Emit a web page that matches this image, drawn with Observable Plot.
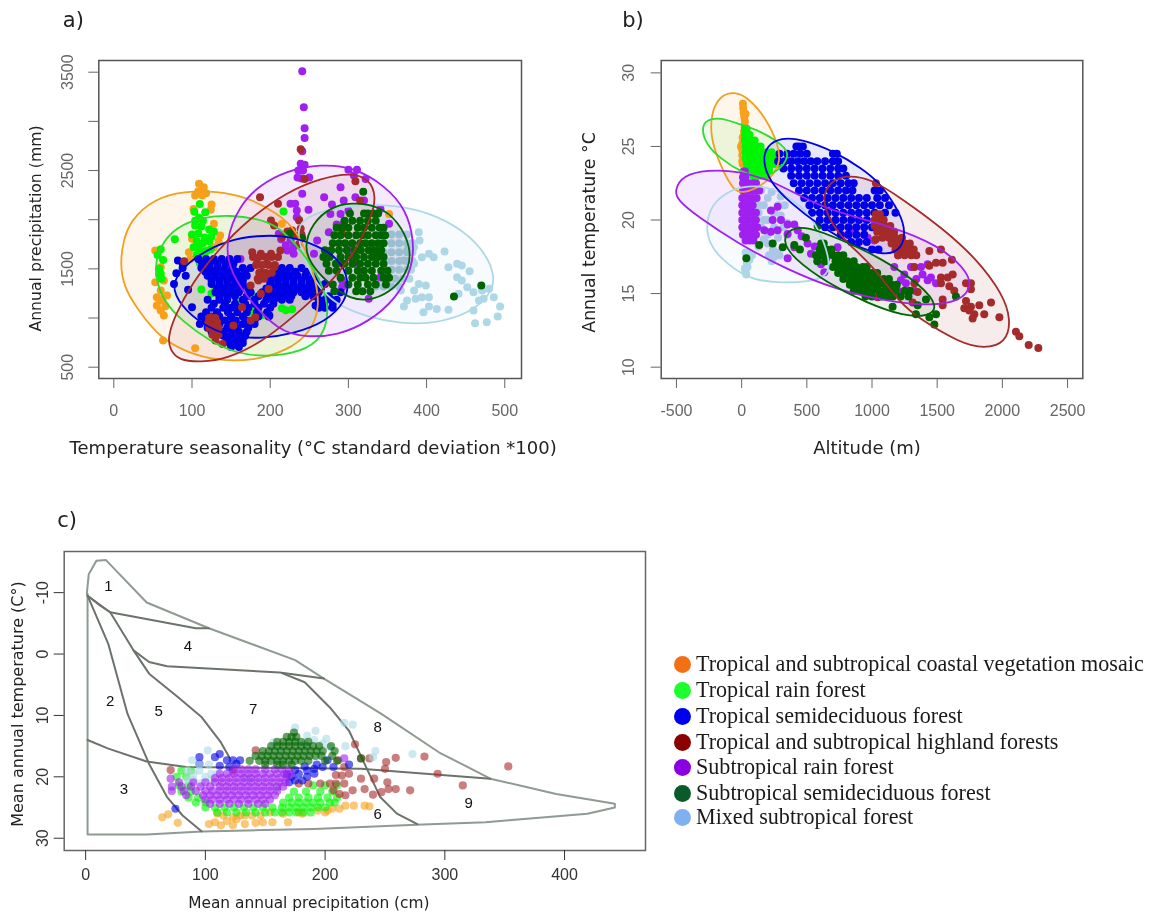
<!DOCTYPE html>
<html><head><meta charset="utf-8">
<script src="https://cdn.jsdelivr.net/npm/d3@7"></script>
<script src="https://cdn.jsdelivr.net/npm/@observablehq/plot@0.6"></script>
<style>
html,body{margin:0;padding:0;background:#fff;}
#page{position:relative;width:1151px;height:917px;overflow:hidden;}
#page svg{position:absolute;background:transparent;max-width:none;filter:blur(0.45px);}
.lg{position:absolute;left:696px;font:22.1px "Liberation Serif",serif;color:#1a1a1a;white-space:nowrap;line-height:24px;filter:blur(0.3px);}
.ld{position:absolute;left:673.5px;width:17px;height:17px;border-radius:50%;}
</style></head><body><div id="page"></div>
<script>
// ---------- legend ----------
const legendNames = ["Tropical and subtropical coastal vegetation mosaic","Tropical rain forest","Tropical semideciduous forest","Tropical and subtropical highland forests","Subtropical rain forest","Subtropical semideciduous forest","Mixed subtropical forest"];
const legendColors = ["#f36f13","#1cff2c","#0000f0","#8b0000","#8a00e0","#0b5a2a","#80b0f0"];
const legendY = [664,690,716,742,767,793,817];

// ---------- panel a: [seasonality, precipitation] ----------
const aOrange = [[109,2365],[115,2331],[113,2246],[104,2246],[125,2154],[102,2110],[128,1958],[136,1839],[100,1805],[96,1670],[53,1687],[53,1364],[60,1517],[64,1381],[68,1229],[58,1195],[55,1127],[60,1076],[64,1025],[63,771],[104,693],[215,1958],[352,2059],[128,1720],[119,1687],[60,1280],[62,1178],[55,1212],[108,2290],[118,2270],[124,2100],[98,1600],[134,1780],[66,1120]];
const aGreen = [[110,2160],[103,2080],[117,2075],[109,2020],[122,1900],[128,1880],[104,1940],[112,1930],[100,1850],[108,1860],[116,1820],[106,1780],[114,1760],[122,1780],[102,1720],[110,1700],[118,1680],[106,1640],[113,1620],[124,1700],[60,1700],[56,1640],[63,1590],[58,1500],[60,1450],[61,1400],[58,1440],[78,1800],[130,1300],[125,1250],[112,1290],[175,1060],[178,1080],[190,1030],[215,1100],[220,1080],[228,1090],[150,1000],[160,1150],[140,1380],[175,1250],[128,1400],[237,2000],[217,2083],[118,1560],[110,1560],[104,1990],[114,1990],[125,1830],[108,1740]];
const aBlueRows = [[1600,[108,118,128,138,148,158]],[1555,[113,123,133,143,153]],[1510,[88,112,122,132,142,152,165,175,215,225,240]],[1470,[117,127,137,147,157,168,210,220,232,246]],[1430,[92,120,130,140,150,160,170,195,205,215,225,235,245,255]],[1385,[125,135,145,155,165,200,210,220,230,240,250,258]],[1345,[125,135,145,155,165,200,210,220,230,240,250,260,270]],[1262,[130,140,150,160,175,190,200,210,220,230,240,250,262]],[1300,[132,142,152,162,172,195,205,215,225,235,245,255,265]],[1222,[135,145,155,170,185,197,207,217,227,245,255,275]],[1185,[120,135,145,165,180,195,205,215,225,262,270,278,285]],[1105,[125,140,150,160,172,185,200,262,270,280]],[1145,[128,142,155,168,180,192,204,266,280]],[1060,[118,132,146,158,170,183,196]],[1015,[112,125,135,150,165,185,198]],[975,[118,130,142,156,170,180]],[940,[110,122,135,150,165,180]],[900,[120,132,145,158,172]],[860,[125,140,150,160,170]],[820,[140,150,160,168]],[785,[145,155,165]],[745,[148,158,165]],[705,[150,160]]];
const aBlue = [[82,1585],[100,1110],[199,1025],[95,1287],[258,1127],[273,1212],[269,1144],[80,1455],[77,1345],[88,1555],[290,1262]];
const aBrownRows = [[1620,[178,186,194,202,210]],[1540,[182,190,198,206]],[1460,[186,194,202]],[1400,[184,192]],[1000,[122,130]],[900,[122,130,134]],[830,[126,134]]];
const aBrown = [[187,2229],[210,2161],[239,2717],[244,2415],[309,2392],[201,1992],[205,1941],[228,1890],[237,1992],[239,1907],[237,1754],[215,1822],[177,1670],[188,1653],[201,1653],[213,1687],[183,1551],[196,1551],[205,1517],[188,1466],[196,1449],[185,1381],[175,1330],[198,1296],[188,1246],[90,1578],[164,1110],[181,1008],[175,975],[153,924],[124,1008],[126,924],[132,958],[121,958],[128,839],[130,771],[139,737],[315,2195],[292,1856],[307,1585],[292,1551],[232,1840],[240,1850],[222,1880]];
const aPurple = [[241,3510],[243,3144],[244,2930],[244,2830],[241,2697],[239,2570],[244,2560],[236,2500],[242,2500],[235,2430],[240,2420],[250,2430],[300,2507],[311,2507],[307,2450],[322,2415],[290,2330],[241,2263],[269,2229],[294,2195],[309,2229],[279,2154],[226,2161],[232,2161],[234,2093],[249,2100],[234,2025],[290,2059],[277,2059],[341,2110],[352,1958],[320,2195],[211,1856],[226,1788],[222,1687],[260,1788],[275,1873],[294,1958],[256,1653],[307,1653],[292,1381],[292,1314],[326,1195],[341,1415],[230,1653],[130,975],[162,1600],[303,1720],[307,1551],[214,1800],[220,1740],[230,1720],[300,2090],[285,1950]];
const aDarkRows = [[2062,[302,320,325,332,338]],[1990,[295,305,315,325,335]],[1918,[285,292,300,312,320,330,340,345]],[1842,[282,290,300,310,318,325,335,342,347]],[1760,[280,288,296,305,315,322,330,338,345]],[1690,[270,278,288,298,308,316,326,334,342]],[1620,[268,276,290,300,310,320,330,338,345]],[1552,[272,284,295,305,315,325,335,345]],[1480,[275,285,300,312,320,330,342,350]],[1410,[290,305,315,322,332,345,352]],[1340,[280,300,312,325,335,348]],[1272,[282,310,318,328]]];
const aDarkExtra = [[319,2283],[435,1219],[470,1330],[225,1856],[241,1815]];
const aLight = [[390,1873],[391,1788],[384,1720],[403,1653],[409,1619],[423,1676],[394,1619],[428,1517],[439,1551],[445,1534],[455,1476],[439,1415],[445,1381],[452,1313],[460,1263],[471,1280],[480,1297],[486,1212],[494,1117],[491,1015],[477,958],[462,948],[460,1076],[473,1195],[467,1178],[441,1246],[428,1083],[413,1093],[403,1117],[396,1059],[371,1117],[403,1212],[390,1347],[399,1330],[384,1280],[375,1178],[386,1195],[394,1212],[367,1280],[384,1551],[375,1687],[371,1585]];
const aLightRows = [[1850,[345,355,365,375]],[1760,[345,355,365,375,382]],[1670,[345,355,365,375,382]],[1580,[345,355,365,375,382]],[1490,[345,355,365,375,380]],[1400,[340,350,360,370,378]],[1320,[335,345,355,365]]];
const aCurveOrange = [[8,1551],[12,1780],[21,1992],[51,2212],[90,2290],[132,2290],[170,2230],[209,2070],[235,1890],[255,1500],[265,1110],[250,839],[222,670],[179,565],[132,565],[94,650],[60,790],[30,1090],[13,1314]];
const aCurveGreen = [[51,1483],[58,1720],[79,1927],[115,2029],[149,2046],[183,2012],[209,1944],[241,1686],[267,1348],[276,1076],[267,790],[239,655],[196,604],[158,638],[124,756],[88,965],[62,1178]];
const aCurveBlue = [[74,1280],[81,1459],[109,1650],[145,1790],[183,1840],[222,1840],[262,1735],[289,1595],[301,1381],[297,1168],[271,960],[230,840],[188,790],[153,808],[122,895],[92,1066]];
const aCurveBrown = [[69,795],[77,1008],[100,1357],[134,1700],[173,2010],[222,2285],[264,2420],[303,2480],[327,2415],[336,2229],[329,2025],[310,1680],[275,1337],[232,1028],[190,757],[145,585],[111,550],[83,570],[72,676]];
const aCurvePurple = [[143,1788],[160,2137],[186,2350],[222,2500],[264,2565],[307,2535],[347,2345],[374,2103],[384,1788],[382,1507],[361,1195],[326,960],[286,822],[247,805],[211,858],[167,1236],[147,1517]];
const aCurveLight = [[237,1992],[273,2110],[315,2150],[358,2150],[403,2075],[446,1900],[476,1660],[488,1415],[482,1236],[454,1044],[409,942],[367,942],[324,1010],[284,1134],[258,1350],[245,1585],[235,1822]];
const aCurveDark = [[243,1720],[254,1968],[277,2125],[303,2178],[339,2142],[364,1985],[380,1720],[378,1507],[360,1300],[332,1180],[303,1180],[271,1375],[252,1551]];

// ---------- panel b: [altitude, temperature] ----------
const bOrange = [[10,27.9],[12,27.6],[15,27.3],[20,27],[25,26.7],[22,26.4],[18,26],[8,25.6],[5,25.2],[3,24.8],[5,24.4],[5,24],[8,23.8],[-5,25],[30,27.2],[30,26.2]];
const bGreenRows = [[26.2,[25,38]],[25.8,[25,45,60]],[25.4,[25,45,70,100]],[25,[30,55,85,115,145]],[24.6,[30,60,90,120,150,190,230]],[24.2,[30,60,90,120,150,180,215,250]],[23.8,[40,70,100,130,160,200,240,270]],[23.4,[50,80,110,140,170,210]],[23,[90,130,160,190]]];
const bLight = [[33,24.95],[30,16.5],[35,16.3],[25,16.7],[45,16.8],[40,17.1],[60,17.3],[30,17.8],[50,17.7],[80,17.6],[250,17.5],[270,17.8],[230,17.2],[290,17.6],[210,17.6],[100,21],[130,21],[170,21],[200,21.5],[130,20.5],[100,20],[150,19.5],[200,20],[250,20.5],[280,21],[250,19.5],[300,20.3],[320,19.5],[350,19.8],[350,19],[100,19],[170,18.7],[130,18.2],[200,18.4],[240,18],[150,22],[230,21.9],[300,21.6],[170,20],[200,19],[280,18.8],[330,21]];
const bPurpleRows = [[23.3,[15,25]],[22.9,[10,30]],[22.5,[10,30,55,85,110]],[22,[10,35,60,85,110,135]],[21.5,[5,30,55,85,115]],[21,[5,30,55,85]],[20.5,[5,30,55,80,110]],[20,[5,30,55,85,110]],[19.5,[5,35,60,90,120]],[19,[10,35,60,85,110]],[18.6,[30,60,90]]];
const bPurple = [[225,20.65],[276,20.9],[238,20],[302,20],[353,19.7],[404,19.7],[174,19.3],[225,19.2],[276,19.3],[353,19.05],[430,19.3],[353,17.4],[404,18.15],[532,17.7],[609,17],[634,16.45],[506,18.4],[609,18.15],[736,18.15],[813,19],[941,19],[1018,18.6],[967,18.8],[864,19.3],[1248,16.3],[1299,16.8],[1376,16.8],[1427,17],[1452,16.1],[1491,15.7],[1427,15.9],[1388,16.3],[1222,15.9],[1171,16.8],[1197,15.2],[1260,15.7],[1325,15.2],[460,18.9],[560,18.2],[650,17.4],[1200,17.6],[1340,16]];
const bBlueRows = [[25,[420,440,470]],[24.5,[290,350,400,450,500,700,730]],[24,[280,330,380,430,480,530,580,640,700,740]],[23.5,[320,380,440,500,560,620,680,740,780]],[23,[380,440,500,560,620,680,740,800]],[22.5,[400,460,520,580,640,700,760,820,860]],[22,[440,500,560,620,680,740,800,850,1020,1060]],[21.5,[480,540,600,660,720,780,840,900,960,1040,1100]],[21,[520,580,640,700,760,820,880,940,1000,1060,1130]],[20.5,[540,600,660,720,780,840,900,960,1020,1100,1180]],[20,[600,660,720,780,840,900,960]],[19.5,[640,700,760,820,880,940,1000]],[19,[760,820,880,940]],[18.5,[840,900,960]],[18,[1000,1050]]];
const bBrownRows = [[20.4,[1030,1060]],[20,[1020,1050,1090]],[19.6,[1020,1060,1100,1140]],[19.2,[1040,1080,1120,1170]],[18.8,[1080,1130,1180,1230]],[18.4,[1150,1200,1250,1290]],[18,[1180,1230,1280,1320]],[17.6,[1200,1250,1300,1340]]];
const bBrown = [[1030,22.5],[1440,17.9],[1529,18],[1491,17.1],[1542,17.1],[1613,17.3],[1440,16.9],[1325,16.8],[1529,16.1],[1580,16.1],[1619,16.3],[1529,15.7],[1593,15.5],[1631,15.2],[1721,15.7],[1759,15.7],[1759,15.3],[1542,14.6],[1542,14.2],[1721,14.5],[1708,14],[1759,14.1],[1785,13.6],[1823,14.2],[1861,13.6],[1913,14.4],[1977,13.4],[2104,12.4],[2130,12.1],[2202,11.5],[2276,11.3],[1746,13.85],[1772,13.3],[1043,14.75],[1325,15.7],[1312,14.4],[1350,15.1],[1030,18.7]];
const bDarkRows = [[18.4,[610,630]],[18,[600,650,690]],[17.6,[570,610,650,700,740,780]],[17.2,[580,640,720,770,810,860]],[16.8,[700,740,790,830,880,930,960]],[16.4,[740,780,820,860,900,950,1000,1040]],[16,[780,820,870,920,960,1000,1040,1090,1130]],[15.6,[830,880,930,970,1010,1050,1100,1150,1190]],[15.2,[860,910,960,1000,1050,1100,1140,1180,1250,1290]],[14.8,[950,1000,1070,1120,1160,1220,1280]]];
const bDark = [[36,17.4],[135,18.3],[238,18.4],[315,18.15],[493,18.8],[583,19.6],[404,18.3],[447,18],[1491,13.6],[1478,12.9],[1440,13.4],[1414,14.6],[1350,14.2],[1337,13.6],[1158,14.1],[1644,14.8]];
const bCurveOrange = [[-56,28.75],[59,28.25],[180,27],[285,25.1],[298,23.8],[205,22.6],[46,21.85],[-60,21.85],[-168,23.8],[-240,25.6],[-232,27.4],[-162,28.45]];
const bCurveGreen = [[-310,26.2],[-268,26.85],[-159,26.95],[-31,26.55],[148,26.05],[335,25],[365,24.3],[282,23.3],[148,22.85],[-5,23.25],[-165,24.2],[-270,25.1]];
const bCurveBlue = [[160,24.04],[192,25.05],[302,25.6],[460,25.5],[716,24.65],[922,23.5],[1052,22.6],[1183,20.95],[1260,19.5],[1234,18],[1094,17.55],[858,18.25],[600,19.6],[368,21.2],[215,22.6]];
const bCurveBrown = [[615,21.55],[678,22.6],[800,23.05],[985,22.85],[1230,21.45],[1540,19.45],[1798,17.4],[2002,15],[2068,13.2],[2028,11.65],[1861,11.25],[1675,11.65],[1370,13.25],[1214,14.35],[1008,16.9],[805,18.45],[675,19.9]];
const bCurvePurple = [[-516,22],[-450,23.05],[-261,23.4],[-31,23.35],[256,22.65],[615,20.75],[1126,19.65],[1514,18.3],[1748,16.4],[1760,15.25],[1640,14.35],[1376,14.2],[1115,14.5],[730,15.25],[345,16.65],[-38,18.45],[-348,20.3],[-490,21.35]];
const bCurveLight = [[-272,19.74],[-232,21],[-112,21.95],[46,22.35],[230,22.25],[465,21],[595,19.35],[672,17.5],[672,16.2],[506,15.75],[225,15.75],[40,16.05],[-168,17.4],[-258,18.6]];
const bCurveDark = [[310,18.6],[372,19.45],[506,19.55],[742,18.75],[1076,17.4],[1388,15.5],[1510,14.1],[1432,13.45],[1248,13.45],[960,14.35],[652,15.75],[395,17.4]];

// ---------- panel c: [precipitation cm, temperature] ----------
const cOrange = [[64,26.6],[69,26.1],[77,27.5],[103,27.7],[108,27.4],[110,26],[115,26.3],[113,27.9],[123,26.6],[123,27.9],[133,27.7],[129,26.3],[139,26.3],[142,27.5],[148,27.4],[154,25.8],[156,27.4],[169,27.4],[165,26],[181,26],[194,25.5],[202,25.5],[212,25.2],[217,24.7],[224,24.7],[233,24.7],[237,24.8],[178,25.8],[133,26.3],[146,26.3],[118,27.2],[126,26.9],[200,25.8],[206,25.2]];
const cGreenRows = [[25.8,[110,118,126,134,142,150,158,164,170,176,182,188]],[25,[100,108,116,124,132,140,148,156,164,170,176,182,188,194,200]],[24.2,[92,100,165,172,178,184,190,196,204,208]],[23.4,[86,94,170,178,186,194,202,210]],[22.4,[80,88,174,184,196,206]],[21.4,[78,86,190,200,210]],[20,[76,84]],[19,[80,88]]];
const cBrown = [[225,14.7],[230,17],[237,17],[251,17.6],[259,16.9],[283,16.7],[250,18.7],[294,19.5],[353,18.3],[315,21.4],[271,22.2],[259,22],[253,22],[247,22.5],[240,22.9],[252,20.9],[241,20.3],[230,20.3],[233,22],[223,22.2],[217,23],[214,19.8],[220,19.5],[216,18.4],[209,21.1],[204,21.1],[196,21.1],[186,21.1],[178,21.1],[216,21.1],[71,18.9],[211,17.3],[142,15.7],[123,19],[207,22.2],[212,22.8],[209,19.7]];
const cBlue = [[75,25.2],[95,16.8],[108,16.8],[112,16.3],[118,17.3],[123,17.3],[129,17.3],[112,18.2],[120,18.4],[126,17.9],[95,17.9],[172,20],[178,19.5],[185,19],[191,18.7],[198,18.4],[181,20.6],[170,20.9],[175,20.6],[185,20],[191,19.5],[202,17.3],[220,18],[207,18.4],[168,19.6],[175,18.9],[183,18.3],[193,18]];
const cPurpleRows = [[18.8,[124,130,136,142,150,158,164,170]],[19.5,[112,118,124,130,136,142,148,154,160,166,171]],[20.2,[108,114,120,126,132,138,144,150,156,162,168]],[20.9,[78,90,100,108,114,120,126,132,138,144,150,156,162,167]],[21.6,[72,80,88,96,104,112,118,124,130,136,142,148,154,160,165]],[22.3,[72,82,92,100,106,112,118,124,130,136,142,148,154,160]],[23,[84,98,104,110,116,122,128,134,140,146,152,158]],[23.7,[100,106,112,118,124,130,136,142,148,154]],[24.4,[104,112,120,128,136,144,150]]];
const cPurple = [[216,17],[71,20.3]];
const cLight = [[102,15.7],[89,17.3],[175,12],[192,12.5],[185,13.3],[201,13.8],[216,11.2],[223,11.5],[217,15],[242,15.8],[240,16.8],[273,16.3],[157,14.4],[85,19],[90,19.5],[95,19],[100,20],[105,19.5],[90,20.5],[97,21],[105,20.5],[85,20.5],[110,19.5],[103,18],[95,18],[183,14.6],[191,14],[198,14.6],[204,15.2],[133,20.1],[138,20.3],[160,21.8]];
const cDarkRows = [[12.8,[174]],[13.5,[168,172,176]],[14.3,[160,165,170,175,180,186]],[15,[155,160,165,170,175,180,185,190,195,205]],[15.8,[148,153,158,163,168,173,178,183,188,193,198,208]],[16.6,[142,147,152,157,162,167,172,177,182,187,192,197,206]],[17.4,[137,145,150,155,160,165,170,175,180,186,200,210]],[18,[150,160,165,172]]];
const cDark = [[230,17]];
const cLines = [
 [[1,-9.8],[2.6,-13],[9,-15.2],[17,-15.3],[51,-8.4],[103,-4.2],[175,1],[199,4],[247,9.75],[295,16],[338,20.3],[393,22.8],[442,24.4],[442,25],[419,26],[334,27.4],[276,27.8],[191,28.5],[97,28.9],[51,29.4],[1.6,29.4],[1.6,-9.8]],
 [[1.6,-9.5],[12,-7.9],[20.5,-6.8],[92,-4.2],[103,-4.2]],
 [[1.6,-9.5],[19,-1.6],[35,9.75],[53,17.9],[68,23.3],[81,26.3],[97,28.9]],
 [[1.6,-9.5],[20.5,-6.8],[40,-0.6],[53,3.2],[77,7],[97,10.3],[113,14.4],[120,16.8]],
 [[40,-0.6],[53,1.3],[68,2],[162,3],[199,4]],
 [[164,3.1],[183,4.6],[204,8.7],[220,12.5],[233,17.9],[246,23.3],[260,26],[277,27.7]],
 [[1.6,14],[19,15.4],[51,17.5],[84,18.4],[230,18.7],[338,20.3]]
];
const cZoneLabels = ["1","2","3","4","5","6","7","8","9"];
const cZoneX = [19,20.5,32,85.5,61,244,140,244,320];
const cZoneY = [-11.1,7.7,22,-1.2,9.3,26.1,9,11.9,24.3];

const colOrange="#f7a01c", colGreen="#00f500", colLineGreen="#2fdc2f", colBlue="#0000e6", colBrown="#a52a2a", colPurple="#a020f0", colDark="#006400", colLight="#add8e6";
const rows = r => r.flatMap(([y,xs]) => xs.map(x => [x,y]));
const X = d => d[0], Y = d => d[1];

const page = document.getElementById("page");
function place(svg,left,top){ svg.style.left=left+"px"; svg.style.top=top+"px"; page.appendChild(svg); }
const LABEL = "DejaVu Sans", TICK = "Liberation Sans";
function labels(xl, xdx, xdy, xsize, yl, ydx, ydy, ysize, tag, tdx, tdy){
  return [
    Plot.text([xl],{text:d=>d,frameAnchor:"bottom",dx:xdx,dy:xdy,lineAnchor:"middle",fontFamily:LABEL,fontSize:xsize,fill:"#222"}),
    Plot.text([yl],{text:d=>d,frameAnchor:"left",rotate:-90,dx:ydx,dy:ydy,lineAnchor:"middle",textAnchor:"middle",fontFamily:LABEL,fontSize:ysize,fill:"#222"}),
    Plot.text([tag],{text:d=>d,frameAnchor:"top-left",dx:tdx,dy:tdy,lineAnchor:"middle",textAnchor:"start",fontFamily:LABEL,fontSize:21,fill:"#222"})
  ];
}
function axes(xt, yt, yf, col, xpad, ypad){
  return [
    Plot.axisX({ticks:xt,tickFormat:d=>String(d),tickSize:10,tickPadding:xpad,label:null,fontSize:16,fontFamily:TICK,color:col,anchor:"bottom"}),
    Plot.axisY({ticks:yt,tickFormat:yf,tickSize:10,tickPadding:ypad,label:null,fontSize:16,fontFamily:TICK,color:col,anchor:"left",tickRotate:-90})
  ];
}
const CURVE = "basis-closed";
function panel(layersBelow, curves, layersAbove){
  return [
    ...layersBelow,
    ...curves.map(c=>Plot.line(c.p,{x:X,y:Y,curve:CURVE,fill:c.c,fillOpacity:0.09,stroke:"none"})),
    ...layersAbove,
    ...curves.map(c=>Plot.line(c.p,{x:X,y:Y,curve:CURVE,stroke:c.c,strokeWidth:1.8,fill:"none"}))
  ];
}
const dot=(p,c,r=4,o=1)=>Plot.dot(p,{x:X,y:Y,r,fill:c,fillOpacity:o,stroke:"none"});

// panel a
const plotA = Plot.plot({width:575,height:470,marginLeft:98.3,marginRight:54,marginTop:60,marginBottom:92,
  x:{domain:[-19.2,521.4]},y:{domain:[385,3619]},
  marks:[
    ...panel([dot(aLight,colLight),dot(rows(aLightRows),colLight)],
      [{p:aCurveLight,c:colLight},{p:aCurveOrange,c:"#f0a020"},{p:aCurveGreen,c:colLineGreen},{p:aCurveBlue,c:colBlue},{p:aCurvePurple,c:colPurple},{p:aCurveBrown,c:colBrown},{p:aCurveDark,c:colDark}],
      [dot(aOrange,colOrange),dot(aGreen,colGreen),dot(aPurple,colPurple),dot(rows(aBlueRows),colBlue),dot(aBlue,colBlue),dot(aBrown,colBrown),dot(rows(aBrownRows),colBrown),dot(rows(aDarkRows),colDark),dot(aDarkExtra,colDark)]),
    Plot.frame({stroke:"#555",strokeWidth:1.5}),
    ...axes([0,100,200,300,400,500],[500,1000,1500,2000,2500,3000,3500],d=>[500,1500,2500,3500].includes(d)?String(d):"","#666",16,16),
    ...labels("Temperature seasonality (°C standard deviation *100)",3,70,18,"Annual precipitation (mm)",-63,9,15.7,"a)",-36,-40)
  ]});
place(plotA,0,0);

// panel b
const plotB = Plot.plot({width:576,height:470,marginLeft:85.7,marginRight:68.7,marginTop:60,marginBottom:92,
  x:{domain:[-617,2617]},y:{domain:[9.23,30.84]},
  marks:[
    ...panel([dot(bLight,colLight)],
      [{p:bCurveOrange,c:"#f0a020"},{p:bCurveGreen,c:colLineGreen},{p:bCurveLight,c:colLight},{p:bCurvePurple,c:colPurple},{p:bCurveBlue,c:colBlue},{p:bCurveBrown,c:colBrown},{p:bCurveDark,c:colDark}],
      [dot(bOrange,colOrange),dot(rows(bGreenRows),colGreen),dot(rows(bPurpleRows),colPurple),dot(bPurple,colPurple),dot(rows(bBlueRows),colBlue),dot(rows(bBrownRows),colBrown),dot(bBrown,colBrown),dot(rows(bDarkRows),colDark),dot(bDark,colDark)]),
    Plot.frame({stroke:"#555",strokeWidth:1.5}),
    ...axes([-500,0,500,1000,1500,2000,2500],[10,15,20,25,30],d=>String(d),"#666",16,17),
    ...labels("Altitude (m)",-5,70,18,"Annual temperature °C",-72,13,17.3,"b)",-39,-40)
  ]});
place(plotB,575,0);

// panel c
const o=0.6;
const plotC = Plot.plot({width:660,height:437,marginLeft:63.7,marginRight:15,marginTop:71,marginBottom:67,
  x:{domain:[-17.9,467.6]},y:{domain:[32,-16.7]},
  marks:[
    Plot.frame({stroke:"#666",strokeWidth:1.5}),
    ...cLines.map((l,i)=>Plot.line(l,{x:X,y:Y,stroke:i===0?"#8f9a90":"#6b736b",strokeWidth:2})),
    Plot.text(cZoneLabels,{x:(d,i)=>cZoneX[i],y:(d,i)=>cZoneY[i],text:d=>d,fontFamily:TICK,fontSize:15,fill:"#111"}),
    dot(cOrange,colOrange,4.1,o),dot(rows(cGreenRows),colGreen,4.1,o),dot(cBrown,colBrown,4.1,o),dot(cBlue,colBlue,4.1,o),
    dot(cLight,colLight,4.1,o),dot(rows(cPurpleRows),colPurple,4.1,o),dot(cPurple,colPurple,4.1,o),dot(rows(cDarkRows),colDark,4.1,o),dot(cDark,colDark,4.1,o),
    ...axes([0,100,200,300,400],[-10,0,10,20,30],d=>String(d),"#333",8,6),
    ...labels("Mean annual precipitation (cm)",-46,53,15.4,"Mean annual temperature (C°)",-46,3,16,"c)",-7,-31)
  ]});
place(plotC,0,480);

legendNames.forEach((n,i)=>{
  const d=document.createElement("div");d.className="ld";d.style.top=(legendY[i]-8.5)+"px";d.style.background=legendColors[i];page.appendChild(d);
  const t=document.createElement("div");t.className="lg";t.style.top=(legendY[i]-12)+"px";t.textContent=n;page.appendChild(t);
});
</script></body></html>
